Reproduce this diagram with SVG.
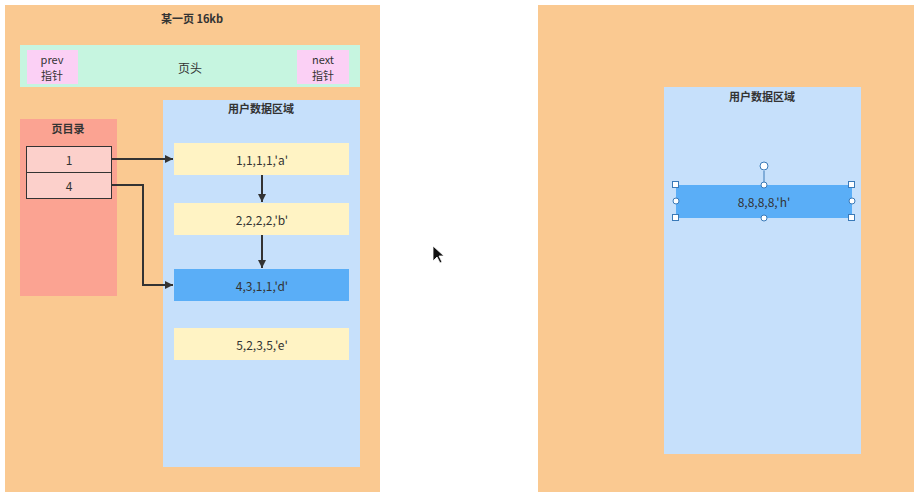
<svg xmlns="http://www.w3.org/2000/svg" width="919" height="495" viewBox="0 0 919 495">
<defs>
<style>
text{font-family:"Noto Sans CJK SC","Liberation Sans",sans-serif;fill:#333;text-anchor:middle;dominant-baseline:central}
.t{font-size:12px}.s{font-size:11px}.h{font-size:11px;font-weight:bold}
.page{fill:#fac991}.ud{fill:#c6e0fb}.rec{fill:#fff3c4}.sel{fill:#5aaef7}
.hd{fill:#c6f5e0}.pn{fill:#fbd0f5}.dir{fill:#fba392}.ent{fill:#fcd0cb;stroke:#333;stroke-width:1}
.c{fill:none;stroke:#333;stroke-width:2}
.hdl{fill:#fff;stroke:#3a7ab8;stroke-width:1}
</style>
<marker id="a" viewBox="0 0 10 10" refX="10" refY="5" markerWidth="8" markerHeight="8" markerUnits="userSpaceOnUse" orient="auto"><path d="M0,0L10,5L0,10z" fill="#333"/></marker>
</defs>
<rect width="919" height="495" fill="#fff"/>
<g id="page1"><rect class="page" x="5" y="5" width="375" height="487"/><text class="h" x="192" y="18">某一页 16kb</text></g>
<g id="header"><rect class="hd" x="20" y="45" width="340" height="42"/><text class="t" x="190" y="67">页头</text></g>
<g id="prev"><rect class="pn" x="27" y="50" width="51" height="34"/><text class="s" x="52" y="59">prev</text><text class="s" x="52" y="75">指针</text></g>
<g id="next"><rect class="pn" x="297" y="50" width="52" height="34"/><text class="s" x="323" y="59">next</text><text class="s" x="323" y="75">指针</text></g>
<g id="pagedir"><rect class="dir" x="20" y="119" width="97" height="177"/><text class="h" x="68" y="128">页目录</text></g>
<g id="slot1"><rect class="ent" x="26.5" y="146.5" width="85" height="26"/><text class="t" x="69" y="159">1</text></g>
<g id="slot4"><rect class="ent" x="26.5" y="172.5" width="85" height="26"/><text class="t" x="69" y="185">4</text></g>
<g id="userdata1"><rect class="ud" x="163" y="100" width="197" height="367"/><text class="h" x="261" y="108">用户数据区域</text></g>
<g id="recA"><rect class="rec" x="174" y="143" width="175" height="32"/><text class="t" x="262" y="159">1,1,1,1,'a'</text></g>
<g id="recB"><rect class="rec" x="174" y="203" width="175" height="32"/><text class="t" x="262" y="219">2,2,2,2,'b'</text></g>
<g id="recD"><rect class="sel" x="174" y="269" width="175" height="32"/><text class="t" x="262" y="285">4,3,1,1,'d'</text></g>
<g id="recE"><rect class="rec" x="174" y="328" width="175" height="32"/><text class="t" x="262" y="344">5,2,3,5,'e'</text></g>
<g id="connectors">
<path class="c" d="M112,159H173" marker-end="url(#a)"/>
<path class="c" d="M112,185H143V285H173" marker-end="url(#a)"/>
<path class="c" d="M262,175V202" marker-end="url(#a)"/>
<path class="c" d="M262,235V268" marker-end="url(#a)"/>
</g>
<g id="page2"><rect class="page" x="538" y="5" width="376" height="487"/></g>
<g id="userdata2"><rect class="ud" x="664" y="87" width="197" height="367"/><text class="h" x="762" y="96">用户数据区域</text></g>
<g id="recH"><rect class="sel" x="676" y="185" width="176" height="33"/><text class="t" x="764" y="201">8,8,8,8,'h'</text>
<line x1="764" y1="171" x2="764" y2="185" stroke="#3a7ab8"/>
<circle class="hdl" cx="764" cy="166" r="4"/>
<rect class="hdl" x="672.5" y="181.5" width="6" height="6"/><rect class="hdl" x="848.5" y="181.5" width="6" height="6"/>
<rect class="hdl" x="672.5" y="214.5" width="6" height="6"/><rect class="hdl" x="848.5" y="214.5" width="6" height="6"/>
<circle class="hdl" cx="764" cy="185" r="3"/><circle class="hdl" cx="764" cy="218" r="3"/>
<circle class="hdl" cx="676" cy="201" r="3"/><circle class="hdl" cx="852" cy="201" r="3"/>
</g>
<path d="M433,246V261L437,257L440,263L442,262L439,256H444Z" fill="#111" stroke="#fff" stroke-width="0.8"/>
</svg>
